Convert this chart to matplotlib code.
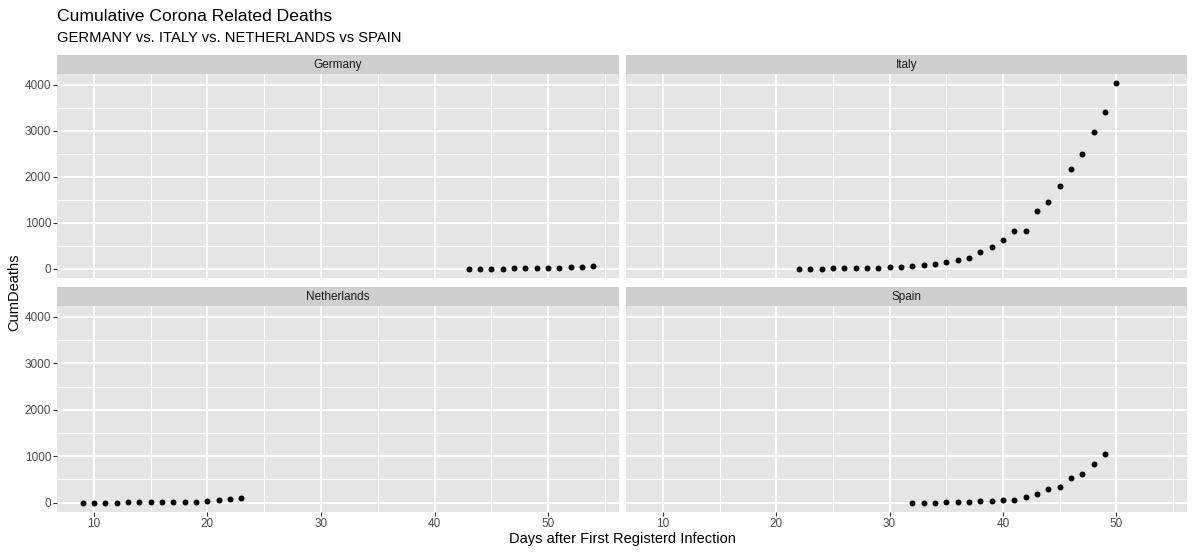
import matplotlib
matplotlib.use('Agg')
import matplotlib.pyplot as plt

# ---- data ----
countries = ["Germany", "Italy", "Netherlands", "Spain"]
germany_days = list(range(43, 55))
germany_deaths = [2, 2, 3, 3, 7, 9, 11, 17, 24, 28, 44, 67]
italy_days = list(range(22, 51))
italy_deaths = [1, 2, 3, 7, 10, 12, 17, 21, 29, 34, 52, 79, 107, 148, 197, 233,
                366, 463, 631, 827, 827, 1266, 1441, 1809, 2158, 2503, 2978, 3405, 4032]
netherlands_days = list(range(9, 24))
netherlands_deaths = [1, 1, 3, 3, 4, 5, 5, 10, 12, 20, 24, 43, 58, 76, 106]
spain_days = list(range(32, 50))
spain_deaths = [1, 2, 3, 5, 10, 17, 28, 35, 54, 55, 133, 195, 289, 342, 533, 623, 830, 1043]
x_ticks = [10, 20, 30, 40, 50]
x_minor = [5, 15, 25, 35, 45, 55]
y_ticks = [0, 1000, 2000, 3000, 4000]
y_minor = [500, 1500, 2500, 3500]

title = "Cumulative Corona Related Deaths"
subtitle = "GERMANY vs. ITALY vs. NETHERLANDS vs SPAIN"
xlabel = "Days after First Registerd Infection"
ylabel = "CumDeaths"

series = {
    "Germany": (germany_days, germany_deaths),
    "Italy": (italy_days, italy_deaths),
    "Netherlands": (netherlands_days, netherlands_deaths),
    "Spain": (spain_days, spain_deaths),
}

plt.rcParams['font.family'] = ['Liberation Sans', 'DejaVu Sans']

W, H = 1195, 554
fig = plt.figure(figsize=(W / 100, H / 100), dpi=100)
fig.patch.set_facecolor('white')

# shared scales with ggplot-like 5% expansion
all_x = germany_days + italy_days + netherlands_days + spain_days
all_y = germany_deaths + italy_deaths + netherlands_deaths + spain_deaths
xr = max(all_x) - min(all_x)
yr = max(all_y) - min(all_y)
xlim = (min(all_x) - 0.05 * xr, max(all_x) + 0.05 * xr)
ylim = (min(all_y) - 0.05 * yr, max(all_y) + 0.05 * yr)

cols = [(57, 619), (626, 1187)]
rows = [(55, 74, 278), (287, 306, 512)]  # strip top, panel top, panel bottom

def fx(px):
    return px / W

def fy(py):
    return 1 - py / H

for i, name in enumerate(countries):
    r, c = divmod(i, 2)
    x0, x1 = cols[c]
    st, pt, pb = rows[r]
    ax = fig.add_axes([fx(x0), fy(pb), fx(x1 - x0), (pb - pt) / H])
    ax.set_facecolor('#E5E5E5')
    for s in ax.spines.values():
        s.set_visible(False)
    ax.set_xticks(x_ticks)
    ax.set_xticks(x_minor, minor=True)
    ax.set_yticks(y_ticks)
    ax.set_yticks(y_minor, minor=True)
    ax.set_xlim(*xlim)
    ax.set_ylim(*ylim)
    ax.grid(which='major', color='white', linewidth=1.45)
    ax.grid(which='minor', color='white', linewidth=0.75)
    ax.set_axisbelow(True)
    ax.tick_params(which='minor', length=0)
    ax.tick_params(which='major', length=2.6, width=0.8, color='#333333',
                   labelsize=8.5, labelcolor='#4D4D4D', pad=1.6)
    if r == 0:
        ax.tick_params(axis='x', which='major', length=0, labelbottom=False)
    if c == 1:
        ax.tick_params(axis='y', which='major', length=0, labelleft=False)
    xs, ys = series[name]
    ax.plot(xs, ys, linestyle='none', marker='o', markersize=4.3,
            color='black', markeredgewidth=0)

    sax = fig.add_axes([fx(x0), fy(pt), fx(x1 - x0), (pt - st) / H])
    sax.set_facecolor('#CFCFCF')
    for s in sax.spines.values():
        s.set_visible(False)
    sax.set_xticks([])
    sax.set_yticks([])
    sax.text(0.5, 0.45, name, ha='center', va='center', fontsize=8.5,
             color='#1A1A1A', transform=sax.transAxes)

fig.text(fx(57), fy(21), title, fontsize=12.6, color='black', ha='left', va='baseline')
fig.text(fx(57), fy(42), subtitle, fontsize=10.6, color='black', ha='left', va='baseline')
fig.text(fx((57 + 1187) / 2), fy(539), xlabel, fontsize=10.5, color='black',
         ha='center', va='center')
fig.text(fx(14), fy(292), ylabel, fontsize=10.5, color='black',
         ha='center', va='center', rotation=90)

fig.savefig('out.png', dpi=100, facecolor='white')
